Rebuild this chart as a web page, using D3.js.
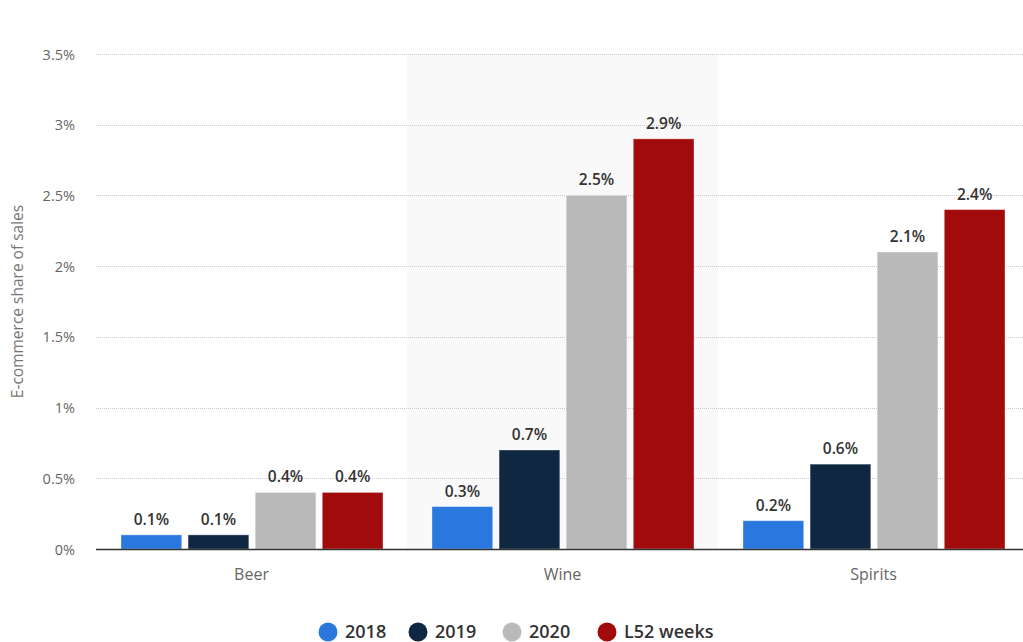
<!DOCTYPE html>
<html>
<head>
<meta charset="utf-8">
<script src="https://cdn.jsdelivr.net/npm/d3@7"></script>
<style>
  html, body { margin: 0; padding: 0; background: #fff; }
  svg { display: block; font-family: "Open Sans", "Noto Sans", sans-serif; }
</style>
</head>
<body>
<svg id="chart" width="1023" height="642"></svg>
<script>
// Online share of alcohol sales by category
const categories = ["Beer", "Wine", "Spirits"];
const seriesNames = ["2018", "2019", "2020", "L52 weeks"];
const seriesColors = ["#2a78de", "#0f2740", "#b9b9b9", "#a20b0c"];
const values2018 = [0.1, 0.3, 0.2];
const values2019 = [0.1, 0.7, 0.6];
const values2020 = [0.4, 2.5, 2.1];
const valuesL52 = [0.4, 2.9, 2.4];
const yTicks = [0, 0.5, 1, 1.5, 2, 2.5, 3, 3.5];
const yTitle = "E-commerce share of sales";

const seriesValues = [values2018, values2019, values2020, valuesL52];
const rows = categories.map((c, i) => ({
  category: c,
  values: seriesNames.map((s, k) => ({ series: s, k, value: seriesValues[k][i] }))
}));

const svg = d3.select("#chart");
const margin = { left: 96, top: 54, bottom: 93 };
const bandWidth = 311;
const innerH = 642 - margin.top - margin.bottom;

const x = d3.scaleBand()
  .domain(categories)
  .range([margin.left, margin.left + bandWidth * categories.length])
  .paddingInner(0).paddingOuter(0);

const x1 = d3.scaleBand()
  .domain(seriesNames)
  .range([25, bandWidth - 24])
  .paddingInner(0.095)
  .paddingOuter(0);

const y = d3.scaleLinear().domain([0, 3.5]).range([margin.top + innerH, margin.top]);

// shaded middle band
svg.append("rect")
  .attr("x", x("Wine"))
  .attr("y", y(3.5))
  .attr("width", x.bandwidth())
  .attr("height", y(0) - y(3.5))
  .attr("fill", "#f9f9f9");

// tick labels
const yAxis = d3.axisLeft(y).tickValues(yTicks).tickSize(0).tickPadding(0)
  .tickFormat(d => d + "%");
const gy = svg.append("g").attr("transform", `translate(75,0)`).call(yAxis);
gy.select(".domain").remove();
gy.selectAll("text").attr("fill", "#666").attr("font-size", 14.5).attr("dy", "0.35em")
  .attr("font-family", "\"Open Sans\", sans-serif");

// gridlines
svg.append("g").selectAll("line")
  .data(yTicks.filter(t => t > 0))
  .join("line")
  .attr("x1", margin.left).attr("x2", 1023)
  .attr("y1", d => Math.round(y(d)) + 0.5).attr("y2", d => Math.round(y(d)) + 0.5)
  .attr("stroke", "#c8c8c8")
  .attr("stroke-width", 1)
  .attr("stroke-dasharray", "1,1");

// axis title
svg.append("text")
  .attr("transform", `translate(23,${y(1.75)}) rotate(-90)`)
  .attr("text-anchor", "middle")
  .attr("fill", "#777")
  .attr("font-size", 15.5)
  .text(yTitle);

// bars
const groups = svg.append("g").selectAll("g")
  .data(rows)
  .join("g")
  .attr("transform", d => `translate(${x(d.category)},0)`);

groups.selectAll("rect")
  .data(d => d.values)
  .join("rect")
  .attr("x", d => x1(d.series))
  .attr("y", d => y(d.value))
  .attr("width", x1.bandwidth())
  .attr("height", d => y(0) - y(d.value))
  .attr("fill", d => seriesColors[d.k])
  .attr("stroke", "rgba(255,255,255,0.35)")
  .attr("stroke-width", 1);

groups.selectAll("text.val")
  .data(d => d.values)
  .join("text")
  .attr("class", "val")
  .attr("x", d => x1(d.series) + x1.bandwidth() / 2)
  .attr("y", d => y(d.value) - 10)
  .attr("text-anchor", "middle")
  .attr("fill", "#333")
  .attr("font-size", 15.5)
  .attr("font-weight", 600)
  .text(d => d.value + "%");

// baseline
svg.append("line")
  .attr("x1", margin.left).attr("x2", 1023)
  .attr("y1", y(0) + 0.5).attr("y2", y(0) + 0.5)
  .attr("stroke", "#333").attr("stroke-width", 1.5);

// category labels
const xAxis = d3.axisBottom(x).tickSize(0).tickPadding(0);
const gx = svg.append("g").attr("transform", `translate(0,${y(0) + 25})`).call(xAxis);
gx.select(".domain").remove();
gx.selectAll("text").attr("fill", "#666").attr("font-size", 16).attr("dy", "0.35em")
  .attr("font-family", "\"Open Sans\", sans-serif");

// legend
const legendX = [328, 418, 512, 607];
const legend = svg.append("g").selectAll("g")
  .data(seriesNames)
  .join("g")
  .attr("transform", (d, i) => `translate(${legendX[i]},632)`);
legend.append("circle").attr("r", 9.5).attr("fill", (d, i) => seriesColors[i]);
legend.append("text")
  .attr("x", 17).attr("dy", "0.35em")
  .attr("fill", "#333")
  .attr("font-size", 18)
  .attr("font-weight", 600)
  .text(d => d);
</script>
</body>
</html>
